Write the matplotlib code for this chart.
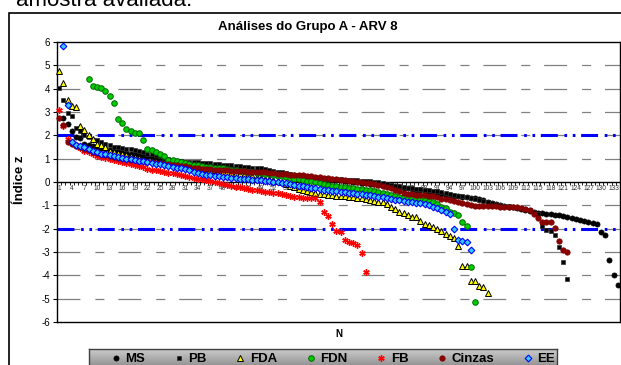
import numpy as np
import matplotlib
matplotlib.use("Agg")
import matplotlib.pyplot as plt

plt.rcParams['font.family'] = ['Liberation Sans', 'DejaVu Sans']
plt.rcParams['lines.scale_dashes'] = False

title = "Análises do Grupo A - ARV 8"
above_text = "amostra avaliada."
n_categories = 134
x_tick_labels = list(range(1, 134, 3))
y_ticks = list(range(-6, 7))
limit_lines = [2, -2]

# first N of each series, then the sorted z values
ms_start = 2
ms = [2.75, 2.50, 2.20, 1.92, 1.88, 1.65, 1.60, 1.55, 1.50, 1.46,
      1.42, 1.38, 1.35, 1.31, 1.28, 1.24, 1.21, 1.18, 1.15, 1.12,
      1.09, 1.06, 1.03, 1.00, 0.97, 0.94, 0.91, 0.88, 0.85, 0.83,
      0.80, 0.78, 0.75, 0.73, 0.71, 0.69, 0.67, 0.65, 0.63, 0.61,
      0.59, 0.57, 0.55, 0.53, 0.51, 0.49, 0.47, 0.45, 0.43, 0.41,
      0.39, 0.37, 0.35, 0.33, 0.31, 0.29, 0.27, 0.25, 0.23, 0.21,
      0.19, 0.17, 0.15, 0.13, 0.11, 0.09, 0.07, 0.05, 0.03, 0.01,
      -0.01, -0.03, -0.05, -0.07, -0.09, -0.11, -0.13, -0.15, -0.17, -0.19,
      -0.21, -0.24, -0.27, -0.30, -0.33, -0.36, -0.39, -0.42, -0.45, -0.48,
      -0.51, -0.54, -0.57, -0.59, -0.61, -0.63, -0.65, -0.67, -0.70, -0.74,
      -0.79, -0.84, -0.89, -0.95, -1.00, -1.03, -1.06, -1.09, -1.12, -1.15,
      -1.20, -1.25, -1.29, -1.31, -1.34, -1.37, -1.39, -1.41, -1.43, -1.46,
      -1.49, -1.53, -1.58, -1.62, -1.66, -1.70, -1.74, -1.80, -2.15, -2.26,
      -3.33, -3.97, -4.40]

pb_start = 1
pb = [4.05, 3.50, 2.95, 2.85, 2.30, 2.20, 2.00, 1.95, 1.82, 1.78,
      1.72, 1.65, 1.60, 1.50, 1.48, 1.45, 1.42, 1.40, 1.37, 1.34,
      1.28, 1.22, 1.18, 1.15, 1.10, 1.05, 0.98, 0.93, 0.90, 0.88,
      0.87, 0.86, 0.85, 0.84, 0.83, 0.81, 0.80, 0.78, 0.77, 0.75,
      0.74, 0.72, 0.70, 0.68, 0.66, 0.64, 0.62, 0.60, 0.58, 0.56,
      0.52, 0.48, 0.45, 0.42, 0.38, 0.35, 0.31, 0.28, 0.26, 0.24,
      0.22, 0.20, 0.18, 0.16, 0.14, 0.13, 0.12, 0.11, 0.10, 0.09,
      0.08, 0.07, 0.06, 0.05, 0.03, 0.01, -0.02, -0.05, -0.08, -0.11,
      -0.15, -0.19, -0.22, -0.25, -0.27, -0.29, -0.31, -0.33, -0.35, -0.37,
      -0.40, -0.43, -0.46, -0.50, -0.54, -0.58, -0.62, -0.66, -0.70, -0.74,
      -0.78, -0.82, -0.86, -0.90, -0.94, -0.98, -1.01, -1.04, -1.07, -1.10,
      -1.13, -1.17, -1.22, -1.27, -1.35, -1.90, -2.05, -2.10, -2.25, -2.77,
      -3.41, -4.15]

fda_start = 1
fda = [4.75, 4.24, 3.50, 3.25, 3.22, 2.40, 2.25, 2.00, 1.85, 1.65,
       1.58, 1.50, 1.35, 1.30, 1.25, 1.20, 1.15, 1.10, 1.06, 1.02,
       0.98, 0.95, 0.92, 0.89, 0.86, 0.83, 0.80, 0.77, 0.74, 0.71,
       0.68, 0.65, 0.62, 0.60, 0.57, 0.55, 0.52, 0.50, 0.47, 0.45,
       0.42, 0.40, 0.37, 0.34, 0.31, 0.28, 0.25, 0.22, 0.18, 0.15,
       0.11, 0.07, 0.03, -0.02, -0.08, -0.15, -0.22, -0.28, -0.33, -0.38,
       -0.42, -0.47, -0.50, -0.52, -0.54, -0.56, -0.58, -0.60, -0.61, -0.63,
       -0.65, -0.67, -0.70, -0.73, -0.76, -0.80, -0.84, -0.87, -0.95, -1.06,
       -1.15, -1.30, -1.33, -1.41, -1.50, -1.52, -1.67, -1.80, -1.85, -1.94,
       -2.00, -2.11, -2.23, -2.33, -2.40, -2.73, -3.58, -3.60, -4.23, -4.25,
       -4.44, -4.50, -4.75]

fdn_start = 8
fdn = [4.41, 4.12, 4.07, 4.01, 3.91, 3.67, 3.40, 2.70, 2.53, 2.27,
       2.20, 2.11, 2.09, 1.81, 1.41, 1.37, 1.30, 1.20, 1.13, 0.95,
       0.93, 0.90, 0.86, 0.82, 0.78, 0.75, 0.72, 0.69, 0.66, 0.64,
       0.62, 0.60, 0.58, 0.55, 0.52, 0.50, 0.48, 0.46, 0.44, 0.42,
       0.40, 0.38, 0.36, 0.33, 0.30, 0.27, 0.24, 0.21, 0.18, 0.15,
       0.12, 0.09, 0.06, 0.03, 0.00, -0.03, -0.07, -0.11, -0.15, -0.18,
       -0.21, -0.23, -0.25, -0.27, -0.29, -0.31, -0.33, -0.36, -0.39, -0.43,
       -0.47, -0.51, -0.55, -0.59, -0.63, -0.66, -0.68, -0.70, -0.72, -0.74,
       -0.78, -0.82, -0.86, -0.95, -1.05, -1.10, -1.30, -1.32, -1.41, -1.70,
       -1.87, -3.63, -5.15]

fb_start = 1
fb = [3.08, 2.40, 1.85, 1.70, 1.60, 1.45, 1.35, 1.28, 1.20, 1.12,
      1.07, 1.03, 0.99, 0.95, 0.90, 0.86, 0.82, 0.78, 0.74, 0.70,
      0.63, 0.56, 0.53, 0.50, 0.48, 0.44, 0.40, 0.37, 0.33, 0.30,
      0.26, 0.22, 0.18, 0.15, 0.12, 0.08, 0.05, 0.02, -0.03, -0.07,
      -0.12, -0.16, -0.20, -0.23, -0.27, -0.30, -0.33, -0.36, -0.38, -0.41,
      -0.43, -0.46, -0.48, -0.51, -0.55, -0.60, -0.65, -0.66, -0.67, -0.68,
      -0.69, -0.70, -0.84, -1.27, -1.47, -1.78, -2.08, -2.15, -2.47, -2.55,
      -2.62, -2.72, -3.04, -3.87]

cinzas_start = 1
cinzas = [2.74, 2.45, 1.70, 1.62, 1.55, 1.48, 1.42, 1.36, 1.30, 1.25,
          1.20, 1.16, 1.12, 1.08, 1.05, 1.02, 0.99, 0.96, 0.93, 0.90,
          0.88, 0.86, 0.84, 0.82, 0.80, 0.78, 0.76, 0.74, 0.72, 0.70,
          0.67, 0.64, 0.61, 0.58, 0.56, 0.55, 0.54, 0.53, 0.52, 0.51,
          0.50, 0.49, 0.48, 0.47, 0.46, 0.45, 0.44, 0.43, 0.42, 0.41,
          0.40, 0.38, 0.36, 0.35, 0.33, 0.32, 0.31, 0.30, 0.28, 0.26,
          0.24, 0.22, 0.20, 0.18, 0.16, 0.14, 0.12, 0.10, 0.08, 0.06,
          0.04, 0.02, 0.00, -0.03, -0.06, -0.10, -0.14, -0.18, -0.22, -0.27,
          -0.33, -0.40, -0.46, -0.50, -0.52, -0.54, -0.56, -0.57, -0.58, -0.60,
          -0.65, -0.72, -0.74, -0.76, -0.80, -0.86, -0.90, -0.94, -0.98, -1.01,
          -1.02, -1.03, -1.03, -1.04, -1.04, -1.05, -1.05, -1.06, -1.07, -1.08,
          -1.10, -1.14, -1.20, -1.37, -1.55, -1.70, -1.70, -1.72, -1.98, -2.51,
          -2.91, -3.01]

ee_start = 2
ee = [5.83, 3.30, 1.70, 1.60, 1.55, 1.48, 1.40, 1.33, 1.27, 1.22,
      1.18, 1.14, 1.10, 1.06, 1.03, 1.00, 0.97, 0.94, 0.91, 0.88,
      0.85, 0.82, 0.79, 0.76, 0.73, 0.70, 0.66, 0.62, 0.58, 0.54,
      0.50, 0.44, 0.38, 0.34, 0.31, 0.29, 0.27, 0.25, 0.23, 0.21,
      0.19, 0.17, 0.15, 0.13, 0.11, 0.09, 0.08, 0.07, 0.06, 0.04,
      0.02, 0.00, -0.03, -0.06, -0.09, -0.12, -0.15, -0.18, -0.21, -0.24,
      -0.27, -0.30, -0.33, -0.36, -0.38, -0.40, -0.42, -0.44, -0.46, -0.48,
      -0.50, -0.52, -0.54, -0.57, -0.60, -0.63, -0.66, -0.69, -0.72, -0.75,
      -0.78, -0.81, -0.84, -0.86, -0.88, -0.92, -0.96, -1.00, -1.08, -1.12,
      -1.20, -1.30, -1.35, -2.00, -2.50, -2.52, -2.55, -2.90]

W, H = 621, 365
fig = plt.figure(figsize=(W / 100, H / 100), dpi=100)


def fx(px):
    return px / W


def fy(py):
    return 1 - py / H


# text of the page above the chart, cut by the crop
fig.text(fx(16), fy(6), above_text, fontsize=16, va='baseline', ha='left')

# outer chart frame (runs off the right and bottom of the picture)
fig.patches.append(plt.Rectangle((fx(9), -0.2), 1.2, fy(13) + 0.2, transform=fig.transFigure,
                                 fill=False, ec='black', lw=1.2))

fig.text(fx(308), fy(27), title, fontsize=9.5, fontweight='bold', ha='center', va='center')

ax = fig.add_axes([fx(57), fy(322), fx(620) - fx(57), fy(42) - fy(322)])
ax.set_xlim(0.5, n_categories + 0.5)
ax.set_ylim(-6, 6)

grid_ls = (0, (16.5, 10.8, 6.5, 10))
for v in y_ticks:
    if abs(v) in (0, 6):
        continue
    ax.axhline(v, color='#808080', lw=0.9, ls=grid_ls, zorder=1)
for v in limit_lines:
    ax.axhline(v, color='#0000ff', lw=2.2, ls=(0, (12.2, 4.8, 1.9, 4.1, 1.9, 4.1)), zorder=1.5)

styles = [
    ("MS", ms_start, ms, dict(marker='o', ms=3.7, mfc='black', mec='black', mew=0.5)),
    ("PB", pb_start, pb, dict(marker='s', ms=2.6, mfc='black', mec='#303030', mew=0.5)),
    ("FDA", fda_start, fda, dict(marker='^', ms=3.7, mfc='#ffff00', mec='black', mew=0.7)),
    ("FDN", fdn_start, fdn, dict(marker='o', ms=4.0, mfc='#00cc00', mec='#006600', mew=0.7)),
    ("FB", fb_start, fb, dict(marker=(6, 2, 0), ms=4.6, mfc='#ff0000', mec='#ff0000', mew=1.0)),
    ("Cinzas", cinzas_start, cinzas, dict(marker='o', ms=3.9, mfc='#8b0000', mec='#800000', mew=0.5)),
    ("EE", ee_start, ee, dict(marker='D', ms=3.4, mfc='#33ccff', mec='#0000ff', mew=0.8)),
]
handles = []
for name, start, vals, st in styles:
    x = np.arange(start, start + len(vals))
    h, = ax.plot(x, vals, ls='none', label=name, zorder=3, clip_on=False, **st)
    handles.append(h)

# category axis crossing at zero
ax.spines['bottom'].set_position(('data', 0))
ax.spines['bottom'].set_linewidth(1.0)
ax.plot([0, 1], [0, 0], transform=ax.transAxes, color='black', lw=1.0, clip_on=False)
for s in ('left', 'top', 'right'):
    ax.spines[s].set_linewidth(1.0)
ax.set_xticks(x_tick_labels)
ax.set_xticklabels([str(t) for t in x_tick_labels], fontsize=4.8, color='#333333')
ax.set_xticks(np.arange(0.5, n_categories + 1, 1), minor=True)
ax.tick_params(axis='x', which='major', length=0, pad=2.5)
ax.tick_params(axis='x', which='minor', length=2, width=0.6, direction='out')
ax.set_yticks(y_ticks)
ax.set_yticklabels([str(t) for t in y_ticks], fontsize=7)
ax.tick_params(axis='y', length=3, width=0.8, pad=2)

fig.text(fx(20), fy(180), "Índice z", rotation=90, fontsize=9.5, fontweight='bold',
         ha='center', va='center')
fig.text(fx(339), fy(334), "N", fontsize=7, fontweight='bold', ha='center', va='center')

# legend band
lax = fig.add_axes([fx(89), fy(372), fx(557) - fx(89), fy(349) - fy(372)], zorder=0)
grad = np.linspace(0, 1, 50).reshape(-1, 1)
lax.imshow(grad, aspect='auto', cmap='Greys', vmin=-1.2, vmax=2.6, extent=[0, 1, 0, 1])
lax.set_xticks([])
lax.set_yticks([])
for s in lax.spines.values():
    s.set_color('#404040')
    s.set_linewidth(1.0)

leg = fig.legend(handles=handles, loc='center left', bbox_to_anchor=(fx(104.5), fy(359)),
                 ncol=7, frameon=False, borderpad=0, handlelength=0.7, handletextpad=0.35,
                 columnspacing=2.23, numpoints=1, prop={'weight': 'bold', 'size': 9.5})
leg.set_zorder(10)

fig.savefig("out.png", dpi=100)
